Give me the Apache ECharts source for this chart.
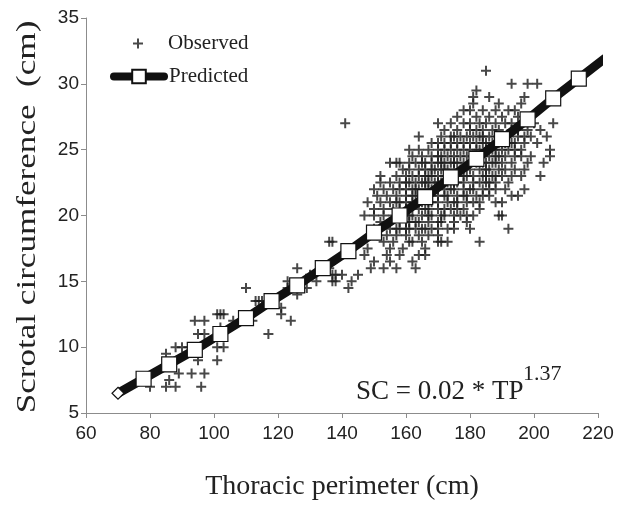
<!DOCTYPE html>
<html><head><meta charset="utf-8">
<script src="https://cdn.jsdelivr.net/npm/echarts@6/dist/echarts.min.js"></script>
<style>html,body{margin:0;padding:0;background:#fff}#c{width:622px;height:506px}</style>
</head><body><div id="c"></div>
<script>
// Observed: rows of equal scrotal circumference (cm) with the thoracic perimeters (cm) read in each row
const rowY = [31, 30, 29.5, 29, 28.5, 28, 27.5, 27, 26.5, 26, 25.5, 25, 24.5, 24, 23.5, 23, 22.5, 22, 21.5, 21, 20.5, 20, 19.5, 19, 18.5, 18, 17.5, 17, 16.5, 16, 15.5, 15, 14.5, 14, 13.5, 13, 12.5, 12, 11.5, 11, 10, 9.5, 9, 8, 7.5, 7];
const rowX = [
  [185],
  [193, 198, 201],
  [182],
  [181, 186, 197],
  [181, 189, 196],
  [178, 180, 184, 188, 192, 194],
  [176, 182, 186, 190, 195, 199],
  [141, 170, 174, 178, 180, 183, 185, 188, 191, 193, 196, 200, 206],
  [172, 176, 180, 182, 184, 187, 189, 193, 195, 198, 202],
  [164, 171, 174, 175, 177, 179, 181, 183, 184, 186, 188, 190, 192, 195, 197, 199, 204],
  [168, 170, 172, 174, 176, 178, 180, 182, 184, 185, 187, 189, 191, 193, 194, 197, 201],
  [161, 164, 167, 170, 172, 174, 176, 178, 180, 182, 183, 185, 187, 188, 190, 192, 194, 196, 205],
  [162, 165, 168, 170, 171, 173, 175, 177, 179, 181, 183, 184, 186, 188, 189, 191, 194, 196, 199, 205],
  [155, 157, 158, 161, 163, 165, 166, 168, 170, 171, 172, 174, 175, 176, 178, 180, 182, 184, 185, 187, 188, 190, 193, 198, 203],
  [159, 161, 164, 166, 168, 169, 171, 172, 173, 175, 177, 178, 180, 183, 185, 186, 189, 191, 194, 197],
  [152, 157, 160, 162, 164, 166, 167, 168, 170, 172, 173, 174, 176, 178, 179, 181, 184, 185, 187, 188, 190, 193, 196, 202],
  [152, 155, 158, 160, 161, 163, 165, 166, 167, 169, 170, 171, 173, 175, 176, 178, 181, 183, 185, 186, 188, 192],
  [150, 153, 156, 158, 160, 162, 163, 164, 166, 167, 168, 170, 172, 174, 175, 178, 180, 181, 184, 186, 188, 191, 197],
  [151, 154, 157, 160, 162, 163, 165, 167, 168, 170, 172, 173, 176, 178, 179, 182, 184, 186, 193, 195],
  [148, 152, 155, 157, 158, 160, 162, 164, 165, 167, 168, 170, 173, 175, 176, 179, 181, 183, 188, 190],
  [150, 153, 156, 158, 160, 161, 164, 166, 167, 170, 172, 174, 176, 178, 183],
  [147, 150, 153, 156, 159, 161, 162, 165, 167, 168, 171, 172, 175, 177, 179, 181, 189, 190],
  [152, 155, 158, 160, 161, 163, 164, 167, 170, 171, 175, 179],
  [150, 155, 157, 158, 160, 161, 163, 165, 166, 168, 170, 173, 175, 180, 192],
  [151, 154, 157, 160, 164, 167, 170],
  [136, 137, 153, 156, 161, 162, 165, 170, 171, 173, 183],
  [148, 155, 159, 166],
  [147, 154, 158, 164, 166],
  [150, 155, 162],
  [126, 136, 149, 153, 157, 163],
  [130, 137, 138, 140, 145],
  [123, 132, 137, 138, 143],
  [110, 123, 126, 129, 142],
  [126],
  [113, 114, 115],
  [121],
  [101, 102, 103, 121],
  [94, 97, 106, 112, 124],
  [102],
  [95, 97, 117],
  [88, 90, 92, 95, 101, 103],
  [85],
  [95, 101],
  [89, 93, 97],
  [86],
  [80, 85, 88, 96]
];
// Predicted curve points
const predX = [70, 78, 86, 94, 102, 110, 118, 126, 134, 142, 150, 158, 166, 174, 182, 190, 198, 206, 214, 222];
const predY = [6.5, 7.6, 8.7, 9.8, 11.0, 12.2, 13.5, 14.7, 16.0, 17.3, 18.7, 20.0, 21.4, 22.9, 24.3, 25.8, 27.3, 28.9, 30.4, 31.9];
// Axis ticks
const xTicks = [60, 80, 100, 120, 140, 160, 180, 200, 220];
const yTicks = [5, 10, 15, 20, 25, 30, 35];

const obsData = [];
rowY.forEach((y, i) => rowX[i].forEach(x => obsData.push([x, y])));
const predData = predX.map((x, i) => ({
  value: [x, predY[i]],
  symbol: i === 0 ? 'diamond' : (i === predX.length - 1 ? 'none' : 'rect'),
  symbolSize: i === 0 ? 12 : 15
}));

const plus = 'path://M4,0H6V4H10V6H6V10H4V6H0V4H4Z';
const axisCol = '#8c8c8c';
const txt = '#222';
const chart = echarts.init(document.getElementById('c'));
chart.setOption({
  animation: false,
  backgroundColor: '#fff',
  grid: { left: 86, right: 24, top: 18, bottom: 90 },
  xAxis: {
    type: 'value', min: xTicks[0], max: xTicks[xTicks.length - 1], interval: 20,
    axisLine: { lineStyle: { color: axisCol } },
    axisTick: { show: true, length: 5, lineStyle: { color: axisCol } },
    axisLabel: { fontFamily: 'Liberation Sans', fontSize: 19, color: txt, margin: 11 },
    splitLine: { show: false },
    name: 'Thoracic perimeter (cm)', nameLocation: 'middle', nameGap: 60,
    nameTextStyle: { fontFamily: 'Liberation Serif', fontSize: 28, color: txt }
  },
  yAxis: {
    type: 'value', min: yTicks[0], max: yTicks[yTicks.length - 1], interval: 5,
    axisLine: { show: true, lineStyle: { color: axisCol } },
    axisTick: { show: true, length: 5, lineStyle: { color: axisCol } },
    axisLabel: { fontFamily: 'Liberation Sans', fontSize: 19, color: txt, margin: 7 },
    splitLine: { show: false }
  },
  legend: [
    { data: ['Observed'], orient: 'vertical', left: 133, top: 33, padding: 0,
      itemWidth: 50, itemHeight: 10, textStyle: { fontFamily: 'Liberation Serif', fontSize: 21, color: txt } },
    { data: ['Predicted'], orient: 'vertical', left: 110, top: 66, padding: 0,
      itemWidth: 50, itemHeight: 17, lineStyle: { width: 8, cap: 'round' },
      textStyle: { fontFamily: 'Liberation Serif', fontSize: 21, color: txt } }
  ],
  graphic: [
    { type: 'text', x: 28, y: 217, rotation: Math.PI / 2, scaleX: 1.3,
      style: { text: 'Scrotal circumference  (cm)', font: '27px "Liberation Serif"', fill: txt, align: 'center', verticalAlign: 'middle' } },
    { type: 'text', left: 356, top: 378,
      style: { text: 'SC = 0.02 * TP', font: '27px "Liberation Serif"', fill: txt } },
    { type: 'text', left: 523, top: 363,
      style: { text: '1.37', font: '22px "Liberation Serif"', fill: txt } }
  ],
  series: [
    { name: 'Observed', type: 'scatter', data: obsData, symbol: plus, symbolSize: 10,
      itemStyle: { color: '#1a1a1a' } },
    { name: 'Predicted', type: 'line', data: predData, clip: false, symbol: 'rect', symbolSize: 15,
      showAllSymbol: true,
      lineStyle: { color: '#111', width: 9, cap: 'round' },
      itemStyle: { color: '#fff', borderColor: '#111', borderWidth: 1.2 } }
  ]
});
</script></body></html>
